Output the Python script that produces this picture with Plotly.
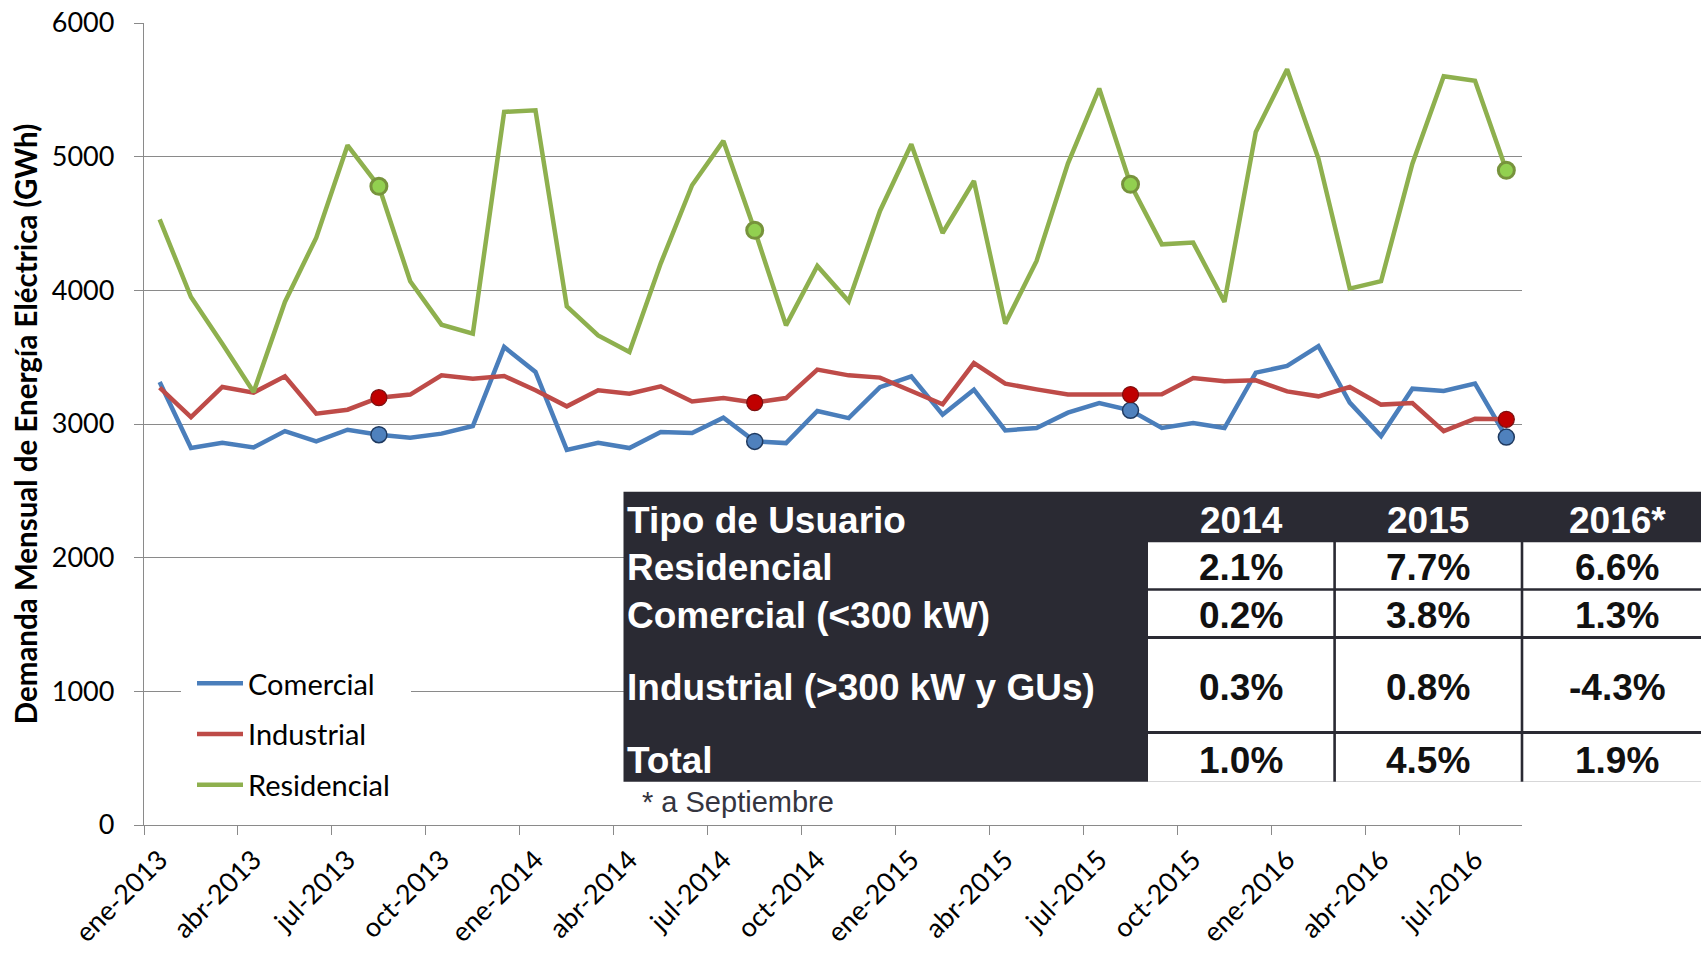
import plotly.graph_objects as go

# ---------------- data ----------------
month_abbr = ["ene", "feb", "mar", "abr", "may", "jun", "jul", "ago", "sep", "oct", "nov", "dic"]
months = [f"{m}-{y}" for y in range(2013, 2017) for m in month_abbr][:44]  # ene-2013 .. ago-2016

comercial = [3314, 2820, 2860, 2825, 2947, 2870, 2957, 2920, 2898, 2928,
             2985, 3576, 3389, 2806, 2860, 2820, 2940, 2932, 3047, 2870,
             2857, 3097, 3044, 3276, 3357, 3070, 3257, 2952, 2970, 3085,
             3157, 3102, 2970, 3007, 2970, 3384, 3434, 3583, 3160, 2910,
             3264, 3247, 3302, 2902]
industrial = [3272, 3052, 3277, 3235, 3357, 3077, 3107, 3197, 3220, 3364,
              3339, 3359, 3252, 3132, 3252, 3227, 3282, 3169, 3194, 3160,
              3194, 3407, 3364, 3347, 3247, 3147, 3456, 3302, 3259, 3220,
              3220, 3220, 3222, 3344, 3319, 3327, 3244, 3207, 3277, 3145,
              3157, 2947, 3040, 3035]
residencial = [4531, 3950, 3600, 3239, 3913, 4394, 5085, 4778, 4068, 3743,
               3676, 5335, 5347, 3880, 3663, 3539, 4202, 4786, 5118, 4449,
               3738, 4182, 3918, 4594, 5093, 4429, 4818, 3751, 4220, 4948,
               5510, 4793, 4344, 4357, 3913, 5185, 5654, 4986, 4013, 4068,
               4948, 5602, 5567, 4898]

highlight_months = ["ago-2013", "ago-2014", "ago-2015", "ago-2016"]
tick_labels = ["ene-2013", "abr-2013", "jul-2013", "oct-2013", "ene-2014", "abr-2014",
               "jul-2014", "oct-2014", "ene-2015", "abr-2015", "jul-2015", "oct-2015",
               "ene-2016", "abr-2016", "jul-2016"]

table_header = ["Tipo de Usuario", "2014", "2015", "2016*"]
table_rows = ["Residencial", "Comercial (<300 kW)", "Industrial (>300 kW y GUs)", "Total"]
table_2014 = ["2.1%", "0.2%", "0.3%", "1.0%"]
table_2015 = ["7.7%", "3.8%", "0.8%", "4.5%"]
table_2016 = ["6.6%", "1.3%", "-4.3%", "1.9%"]
footnote = "* a Septiembre"

y_title = "Demanda Mensual de Energía Eléctrica (GWh)"

# ---------------- layout constants ----------------
W, H = 1701, 953
L, R, T, B = 144, 179, 23, 128
PW, PH = W - L - R, H - T - B


def px(x):
    return (x - L) / PW


def py(y):
    return (H - B - y) / PH


idx = list(range(len(months)))
hi = [months.index(m) for m in highlight_months]
tick_pos = [months.index(t) for t in tick_labels]

GRID = "#8a8a8a"
series = [
    ("Comercial", comercial, "#4A7EBB", dict(color="#4F81BD", size=16, line=dict(color="#1F3A60", width=1.5))),
    ("Industrial", industrial, "#BE4B48", dict(color="#C00000", size=16, line=dict(color="#7A1010", width=1.2))),
    ("Residencial", residencial, "#8EB04E", dict(color="#92D050", size=16, line=dict(color="#77933C", width=3))),
]

fig = go.Figure()
for name, vals, col, mk in series:
    fig.add_trace(go.Scatter(
        x=idx, y=vals, mode="lines", name=name, legendgroup=name,
        line=dict(color=col, width=4.5), text=months,
        hovertemplate="%{text}: %{y}<extra>" + name + "</extra>"))
for name, vals, col, mk in series:
    fig.add_trace(go.Scatter(
        x=[idx[i] for i in hi], y=[vals[i] for i in hi], mode="markers",
        marker=mk, showlegend=False, legendgroup=name,
        text=[months[i] for i in hi],
        hovertemplate="%{text}: %{y}<extra>" + name + "</extra>"))

# ---------------- table (shapes + annotations) ----------------
shapes = []
annotations = []
DARK = "#2a2a33"
tab_left, tab_top, tab_bottom = 623.5, 491.7, 781.7
col_edges = [1148, 1334.6, 1522, 1712]
row_bounds = [(542.3, 588.3), (590.7, 636.0), (639.0, 731.0), (734.0, 781.7)]
header_center = 520

# legend background area (covers the gridline behind the legend)
shapes.append(dict(type="rect", xref="paper", yref="paper", layer="above",
                   x0=px(181), x1=px(411), y0=py(810), y1=py(658),
                   fillcolor="white", line=dict(width=0)))

shapes.append(dict(type="rect", xref="paper", yref="paper", layer="above",
                   x0=px(tab_left), x1=px(1712), y0=py(tab_bottom), y1=py(tab_top),
                   fillcolor=DARK, line=dict(width=0)))
for c in range(3):
    for (r0, r1) in row_bounds:
        x0 = col_edges[c] + (0 if c == 0 else 1.3)
        x1 = col_edges[c + 1] - 1.3
        shapes.append(dict(type="rect", xref="paper", yref="paper", layer="above",
                           x0=px(x0), x1=px(x1), y0=py(r1), y1=py(r0),
                           fillcolor="white", line=dict(width=0)))

TFONT = "Liberation Sans, Arial, sans-serif"
TSIZE = 37
annotations.append(dict(text=table_header[0], xref="paper", yref="paper", x=px(625), y=py(header_center),
                        xanchor="left", yanchor="middle", showarrow=False,
                        font=dict(family=TFONT, size=TSIZE, color="white", weight="bold")))
col_centers = [(col_edges[c] + col_edges[c + 1]) / 2 for c in range(3)]
for c in range(3):
    annotations.append(dict(text=table_header[c + 1], xref="paper", yref="paper", x=px(col_centers[c]),
                            y=py(header_center), xanchor="center", yanchor="middle", showarrow=False,
                            font=dict(family=TFONT, size=TSIZE, color="white", weight="bold")))
for r, (r0, r1) in enumerate(row_bounds):
    yc = (r0 + r1) / 2 + 2.5
    annotations.append(dict(text=table_rows[r], xref="paper", yref="paper", x=px(625), y=py(yc),
                            xanchor="left", yanchor="middle", showarrow=False,
                            font=dict(family=TFONT, size=TSIZE, color="white", weight="bold")))
    for c, colvals in enumerate([table_2014, table_2015, table_2016]):
        annotations.append(dict(text=colvals[r], xref="paper", yref="paper", x=px(col_centers[c]), y=py(yc),
                                xanchor="center", yanchor="middle", showarrow=False,
                                font=dict(family=TFONT, size=TSIZE, color="#111111", weight="bold")))
annotations.append(dict(text=footnote, xref="paper", yref="paper", x=px(640), y=py(802),
                        xanchor="left", yanchor="middle", showarrow=False,
                        font=dict(family=TFONT, size=29, color="#35353f")))

fig.update_layout(
    width=W, height=H,
    margin=dict(l=L, r=R, t=T, b=B, autoexpand=False),
    paper_bgcolor="white", plot_bgcolor="white",
    font=dict(family="Lato, sans-serif", color="black"),
    showlegend=True,
    legend=dict(x=px(192), y=py(658), xanchor="left", yanchor="top",
                bgcolor="rgba(0,0,0,0)", borderwidth=0, font=dict(family="Lato", size=29, color="black"),
                tracegroupgap=10, itemwidth=46),
    xaxis=dict(range=[-0.5, 43.5], tickmode="array", tickvals=tick_pos, ticktext=tick_labels,
               tickangle=-45, ticks="outside", ticklen=7, tickcolor="rgba(0,0,0,0)",
               showgrid=False, zeroline=False,
               showline=True, linecolor=GRID, linewidth=1.3,
               tickfont=dict(family="Lato", size=27, color="black"),
               minor=dict(tickmode="array", tickvals=[p - 0.5 for p in tick_pos],
                          ticks="outside", ticklen=9, tickcolor=GRID, tickwidth=1.3, showgrid=False)),
    yaxis=dict(range=[0, 6000], tickmode="linear", tick0=0, dtick=1000,
               ticks="outside", ticklen=9, tickcolor=GRID, tickwidth=1.3,
               showgrid=True, gridcolor=GRID, gridwidth=1.3, zeroline=False,
               showline=True, linecolor=GRID, linewidth=1.3,
               tickfont=dict(family="Lato", size=27, color="black"),
               ticklabelstandoff=14,
               title=dict(text=y_title, standoff=5,
                          font=dict(family="Lato", size=29.5, color="black", weight="bold"))),
    shapes=shapes,
    annotations=annotations,
)

fig.write_html("out.html",
               config={"displayModeBar": False},
               post_script="document.body.style.margin='0px';document.body.style.padding='0px';"
                           "document.documentElement.style.overflow='hidden';")
